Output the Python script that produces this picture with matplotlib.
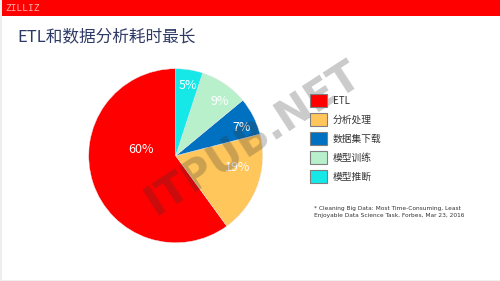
import numpy as np
import matplotlib.pyplot as plt
from matplotlib.patches import Rectangle, Patch

plt.rcParams['font.family'] = ['Noto Sans CJK SC', 'DejaVu Sans']

# data
labels = ['ETL', '分析处理', '数据集下载', '模型训练', '模型推断']
shares = [60, 19, 7, 9, 5]
colors = ['#ff0000', '#ffc65c', '#0070c0', '#b8f0cc', '#16e8e8']
title = 'ETL和数据分析耗时最长'
note = '* Cleaning Big Data: Most Time-Consuming, Least\nEnjoyable Data Science Task, Forbes, Mar 23, 2016'

# label placement tweaks (radius, angle shift in degrees)
pct_pos = [(0.40, -28), (0.72, 9), (0.82, -4), (0.80, -5), (0.82, -1)]

W, H = 500, 281
fig = plt.figure(figsize=(5, 2.81), dpi=100)
fig.patch.set_facecolor('white')

# red header bar
fig.patches.append(Rectangle((0, 1 - 16 / H), 1, 16 / H, transform=fig.transFigure,
                             facecolor='#ff0000', edgecolor='none', zorder=0))
fig.text(5 / W, 1 - 8.5 / H, 'ZILLIZ', color='#ffb3b3', fontsize=6.8,
         family='DejaVu Sans Mono', va='center', ha='left')
fig.text(17 / W, 1 - 37 / H, title, color='#2e3a66', fontsize=12,
         va='center', ha='left')

# light frame on left / bottom
fig.patches.append(Rectangle((0, 0), 1.5 / W, 1, transform=fig.transFigure,
                             facecolor='#eeeeee', edgecolor='none'))
fig.patches.append(Rectangle((0, 0), 1, 1.5 / H, transform=fig.transFigure,
                             facecolor='#eeeeee', edgecolor='none'))

cx, cy, r = 175.7, 155.7, 87
ax = fig.add_axes([(cx - r) / W, (H - cy - r) / H, 2 * r / W, 2 * r / H])
wedges, texts, autotexts = ax.pie(shares, colors=colors, startangle=90,
                                  counterclock=True, autopct='%d%%',
                                  wedgeprops=dict(edgecolor='#e8e8e8', linewidth=0.3),
                                  textprops=dict(color='white', fontsize=9))
ax.set_xlim(-1, 1)
ax.set_ylim(-1, 1)
ax.set_aspect('equal')

for w, t, (rad, shift) in zip(wedges, autotexts, pct_pos):
    ang = np.deg2rad((w.theta1 + w.theta2) / 2 + shift)
    t.set_position((rad * np.cos(ang), rad * np.sin(ang)))
    t.set_ha('center')
    t.set_va('center')

handles = [Patch(facecolor=c, edgecolor='#7f7f7f', linewidth=0.8) for c in colors]
fig.legend(handles, labels, loc='upper left', bbox_to_anchor=(310 / W, 1 - 94 / H),
           frameon=False, fontsize=7, handlelength=1.7, handleheight=1.7,
           handletextpad=0.65, labelspacing=0.6, borderpad=0, borderaxespad=0,
           labelcolor='#333333')

fig.text(314 / W, 1 - 212 / H, note, fontsize=4.2, color='#333333',
         va='center', ha='left', linespacing=1.6, family='DejaVu Sans')

# watermark
fig.text(252 / W, 1 - 138 / H, 'ITPUB.NET', fontsize=30, fontweight='bold',
         color='#333333', alpha=0.26, rotation=33, ha='center', va='center',
         family='DejaVu Sans')

fig.savefig('out.png', dpi=100)
